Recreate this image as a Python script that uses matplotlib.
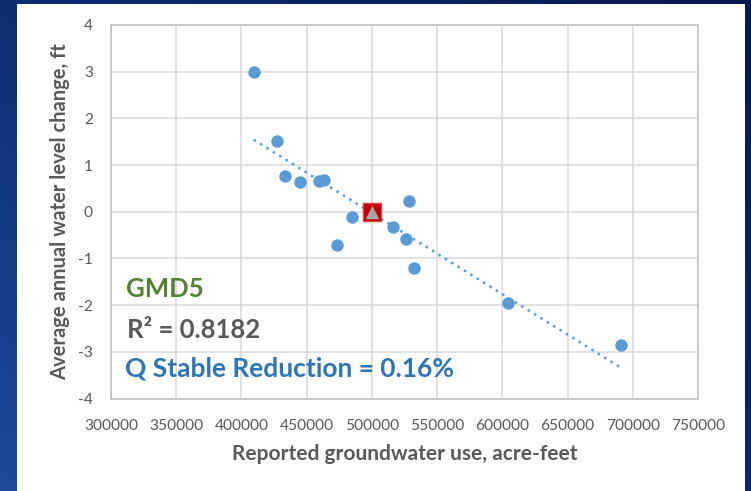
import numpy as np
import matplotlib
matplotlib.use("Agg")
import matplotlib.pyplot as plt
from matplotlib.colors import LinearSegmentedColormap
from matplotlib.patches import Rectangle

# reported groundwater use (acre-feet) vs average annual water level change (ft)
use_af = [409400, 427600, 433700, 445200, 459400, 463000, 473200, 484500,
          516100, 526300, 528600, 532200, 604600, 691100]
wl_change = [3.00, 1.52, 0.76, 0.63, 0.66, 0.68, -0.72, -0.12,
             -0.32, -0.59, 0.22, -1.21, -1.96, -2.86]
stable_use = [500000]
stable_change = [0.0]

x_ticks = [300000, 350000, 400000, 450000, 500000, 550000, 600000, 650000, 700000, 750000]
y_ticks = [-4, -3, -2, -1, 0, 1, 2, 3, 4]

FONT = "Lato"
GRAY = "#595959"

fig = plt.figure(figsize=(7.51, 4.91), dpi=100)

# dark blue slide background
bg = fig.add_axes([0, 0, 1, 1], zorder=-10)
cmap = LinearSegmentedColormap.from_list("slide", ["#1b4a9a", "#0c2a6e", "#061a52"])
gx, gy = np.meshgrid(np.linspace(0, 1, 200), np.linspace(0, 1, 200))
grad = 0.55 * gx + 0.45 * (1 - gy)
bg.imshow(grad, cmap=cmap, aspect="auto", extent=[0, 1, 0, 1], origin="upper")
bg.add_patch(Rectangle((17 / 751, 0), (745 - 17) / 751, (491 - 4) / 491,
                       facecolor="white", edgecolor="none"))
bg.set_xlim(0, 1)
bg.set_ylim(0, 1)
bg.axis("off")

ax = fig.add_axes([111 / 751, 1 - 398.5 / 491, (698 - 111) / 751, 373.5 / 491])
ax.set_facecolor("white")

ax.scatter(use_af, wl_change, s=80, color="#5b9bd5", zorder=3, linewidths=0)

# linear trend line
k, b = np.polyfit(use_af, wl_change, 1)
xs = np.array([min(use_af), max(use_af)])
ax.plot(xs, k * xs + b, linestyle=(0, (1, 2.0)), color="#5b9bd5", lw=1.8, zorder=2)

ax.scatter(stable_use, stable_change, marker="s", s=180, color="#c00000",
           edgecolors="#e04040", linewidths=1, zorder=4)
ax.scatter(stable_use, stable_change, marker="^", s=95, color="#a5a5a5",
           linewidths=0, zorder=5)

ax.set_xlim(300000, 750000)
ax.set_ylim(-4, 4)
ax.set_xticks(x_ticks)
ax.set_yticks(y_ticks)
ax.set_xticklabels([str(v) for v in x_ticks], fontsize=11.2, color=GRAY, family=FONT)
ax.set_yticklabels([str(v) for v in y_ticks], fontsize=11.2, color=GRAY, family=FONT)
ax.tick_params(axis="x", length=0, pad=15)
ax.tick_params(axis="y", length=0, pad=13)
ax.grid(True, color="#d9d9d9", lw=1.1)
ax.set_axisbelow(True)
for sp in ax.spines.values():
    sp.set_color("#bfbfbf")
    sp.set_linewidth(1.1)

ax.set_xlabel("Reported groundwater use, acre-feet", fontsize=15, color=GRAY,
              family=FONT, fontweight="bold", labelpad=8)
ax.set_ylabel("Average annual water level change, ft", fontsize=14.5, color=GRAY,
              family=FONT, fontweight="bold", labelpad=6)

ax.text(0.026, 0.272, "GMD5", transform=ax.transAxes, fontsize=18.5, color="#548235",
        family=FONT, fontweight="bold", va="baseline")
ax.text(0.027, 0.162, "R² = 0.8182", transform=ax.transAxes, fontsize=18.5,
        color="#595959", family=FONT, fontweight="bold", va="baseline")
ax.text(0.023, 0.06, "Q Stable Reduction = 0.16%", transform=ax.transAxes, fontsize=19,
        color="#2e75b6", family=FONT, fontweight="bold", va="baseline")

fig.savefig("out.png", dpi=100)
